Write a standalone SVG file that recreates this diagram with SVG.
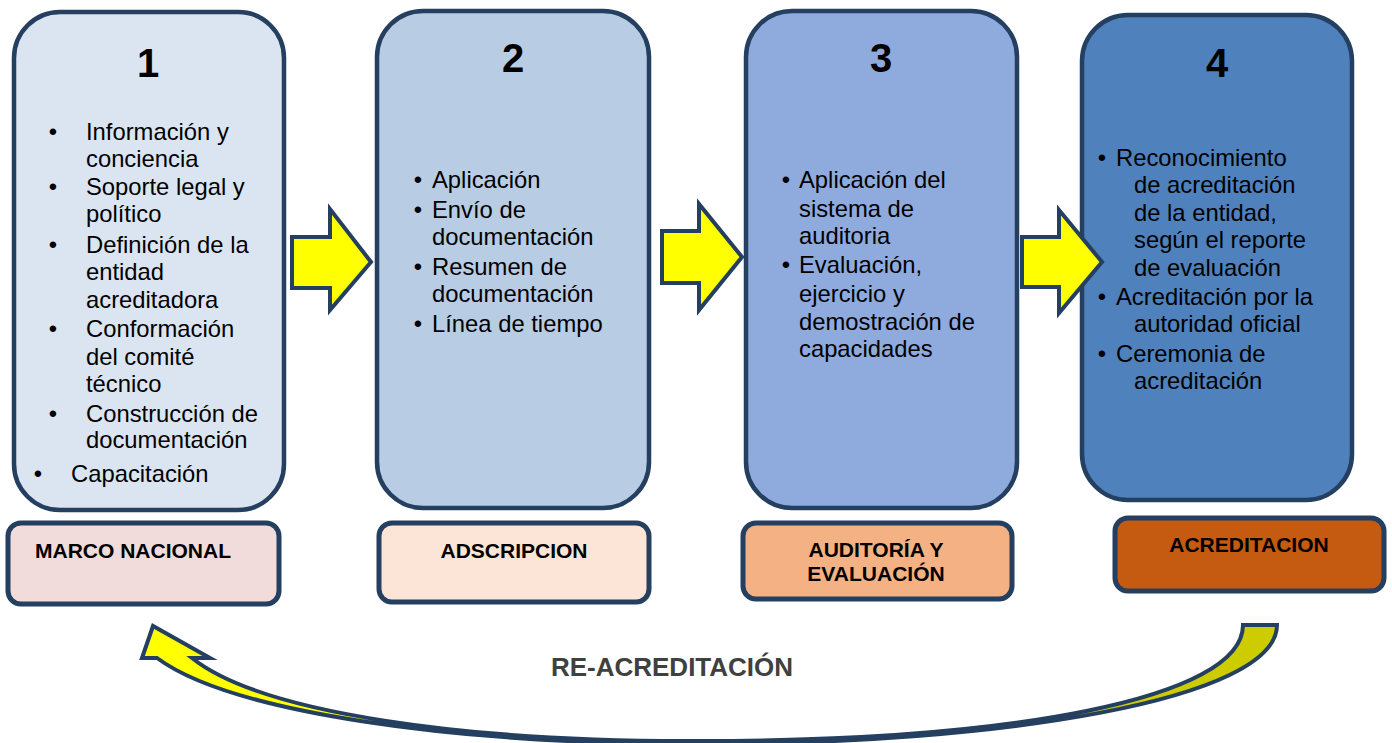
<svg xmlns="http://www.w3.org/2000/svg" width="1392" height="743" viewBox="0 0 1392 743">
<defs>
<style>
.box{stroke:#243f60;stroke-width:4.5}
.lbl{stroke:#243f60;stroke-width:5}
.arr{fill:#ffff00;stroke:#243f60;stroke-width:4;stroke-linejoin:miter}
.num{font-family:"Liberation Sans",Arial,sans-serif;font-weight:bold;font-size:40px;fill:#000;text-anchor:middle}
.t{font-family:"Liberation Sans",Arial,sans-serif;font-size:23.8px;fill:#000}
.b{font-family:"Liberation Sans",Arial,sans-serif;font-size:23.8px;fill:#000;text-anchor:middle}
.lt{font-family:"Liberation Sans",Arial,sans-serif;font-weight:bold;font-size:21px;fill:#000}
.re{font-family:"Liberation Sans",Arial,sans-serif;font-weight:bold;font-size:26px;fill:#404040;text-anchor:middle}
</style>
<linearGradient id="cg" gradientUnits="userSpaceOnUse" x1="140" y1="0" x2="1280" y2="0">
<stop offset="0" stop-color="#ffff00"/>
<stop offset="0.55" stop-color="#ffff00"/>
<stop offset="0.7" stop-color="#cccc00"/>
<stop offset="1" stop-color="#cccc00"/>
</linearGradient>
</defs>
<rect width="1392" height="743" fill="#ffffff"/>

<g id="node1">
<rect class="box" x="14" y="12" width="270" height="498" rx="46" fill="#dbe5f1"/>
<text class="num" x="148" y="77">1</text>
<text class="b" x="53" y="140">•</text>
<text class="t" x="86" y="140">Información y</text>
<text class="t" x="86" y="167">conciencia</text>
<text class="b" x="53" y="195">•</text>
<text class="t" x="86" y="195">Soporte legal y</text>
<text class="t" x="86" y="222">político</text>
<text class="b" x="53" y="253">•</text>
<text class="t" x="86" y="253">Definición de la</text>
<text class="t" x="86" y="280">entidad</text>
<text class="t" x="86" y="308">acreditadora</text>
<text class="b" x="53" y="337">•</text>
<text class="t" x="86" y="337">Conformación</text>
<text class="t" x="86" y="365">del comité</text>
<text class="t" x="86" y="392">técnico</text>
<text class="b" x="53" y="422">•</text>
<text class="t" x="86" y="422">Construcción de</text>
<text class="t" x="86" y="448">documentación</text>
<text class="b" x="38" y="482">•</text>
<text class="t" x="71" y="482">Capacitación</text>
</g>

<g id="node2">
<rect class="box" x="377" y="11" width="272" height="497" rx="46" fill="#b8cce4"/>
<text class="num" x="513" y="72">2</text>
<text class="b" x="418" y="188">•</text>
<text class="t" x="432" y="188">Aplicación</text>
<text class="b" x="418" y="218">•</text>
<text class="t" x="432" y="218">Envío de</text>
<text class="t" x="432" y="245">documentación</text>
<text class="b" x="418" y="275">•</text>
<text class="t" x="432" y="275">Resumen de</text>
<text class="t" x="432" y="302">documentación</text>
<text class="b" x="418" y="332">•</text>
<text class="t" x="432" y="332">Línea de tiempo</text>
</g>

<g id="node3">
<rect class="box" x="746" y="11" width="271" height="497" rx="46" fill="#8faadc"/>
<text class="num" x="881" y="72">3</text>
<text class="b" x="786" y="188">•</text>
<text class="t" x="799" y="188">Aplicación del</text>
<text class="t" x="799" y="217">sistema de</text>
<text class="t" x="799" y="244">auditoria</text>
<text class="b" x="786" y="273">•</text>
<text class="t" x="799" y="273">Evaluación,</text>
<text class="t" x="799" y="302">ejercicio y</text>
<text class="t" x="799" y="330">demostración de</text>
<text class="t" x="799" y="357">capacidades</text>
</g>

<g id="node4">
<rect class="box" x="1082" y="15" width="270" height="485" rx="46" fill="#4f81bd"/>
<text class="num" x="1217" y="77">4</text>
<text class="b" x="1102" y="166">•</text>
<text class="t" x="1116" y="166">Reconocimiento</text>
<text class="t" x="1134" y="193">de acreditación</text>
<text class="t" x="1134" y="221">de la entidad,</text>
<text class="t" x="1134" y="248">según el reporte</text>
<text class="t" x="1134" y="276">de evaluación</text>
<text class="b" x="1102" y="305">•</text>
<text class="t" x="1116" y="305">Acreditación por la</text>
<text class="t" x="1134" y="332">autoridad oficial</text>
<text class="b" x="1102" y="362">•</text>
<text class="t" x="1116" y="362">Ceremonia de</text>
<text class="t" x="1134" y="389">acreditación</text>
</g>

<g id="label1">
<rect class="lbl" x="8" y="523" width="271" height="81" rx="13" fill="#f2dcdb"/>
<text class="lt" x="35" y="558">MARCO NACIONAL</text>
</g>
<g id="label2">
<rect class="lbl" x="379" y="523" width="270" height="79" rx="13" fill="#fce4d6"/>
<text class="lt" x="514" y="558" text-anchor="middle">ADSCRIPCION</text>
</g>
<g id="label3">
<rect class="lbl" x="743" y="523" width="269" height="76" rx="13" fill="#f4b183"/>
<text class="lt" x="876" y="557" text-anchor="middle">AUDITORÍA Y</text>
<text class="lt" x="876" y="581" text-anchor="middle">EVALUACIÓN</text>
</g>
<g id="label4">
<rect class="lbl" x="1115" y="518" width="269" height="73" rx="13" fill="#c55a11"/>
<text class="lt" x="1249" y="552" text-anchor="middle">ACREDITACION</text>
</g>

<g id="connectors">
<path class="arr" d="M292,237 L330,237 L330,209 L371,262 L330,310 L330,288 L292,288 Z"/>
<path class="arr" d="M662,231 L699,231 L699,204 L742,257 L699,310 L699,283 L662,283 Z"/>
<path class="arr" d="M1022,237 L1059,237 L1059,210 L1102,262 L1059,313 L1059,287 L1022,287 Z"/>
<path fill="url(#cg)" stroke="#243f60" stroke-width="4" stroke-linejoin="miter" d="M1277,625 L1243,625 C1243,699 1010,741 700,741 C470,742 262,714 192,658 L210,658 L153,626 L142,658 L157,658 C230,712 450,744 700,744 C1000,744 1277,700 1277,625 Z"/>
<text class="re" x="672" y="676">RE-ACREDITACIÓN</text>
</g>
</svg>
